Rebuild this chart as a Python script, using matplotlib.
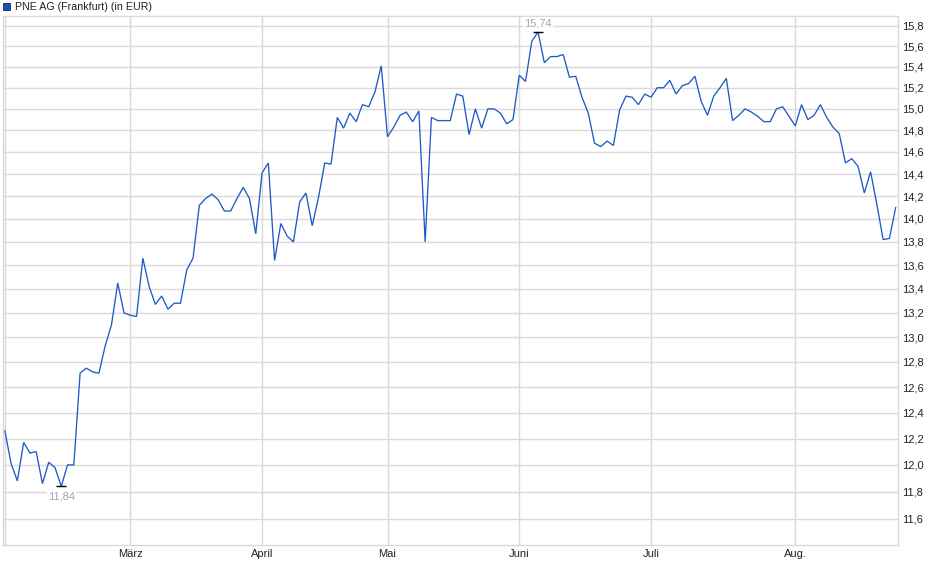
import numpy as np
import pandas as pd
import matplotlib
matplotlib.use("Agg")
import matplotlib.pyplot as plt
from matplotlib.ticker import FixedLocator, FuncFormatter, NullLocator
from matplotlib.patches import Rectangle

plt.rcParams['font.family'] = ['Liberation Sans', 'DejaVu Sans']

# ---- data ----
title = "PNE AG (Frankfurt) (in EUR)"
holidays = ["2025-04-18", "2025-04-21", "2025-05-01"]
start_date = "2025-02-03"
end_date = "2025-08-25"
prices = [
    12.26, 12.01, 11.88, 12.17, 12.09, 12.10, 11.86, 12.02, 11.98, 11.84,
    12.00, 12.00, 12.71, 12.75, 12.72, 12.71, 12.93, 13.10, 13.45, 13.20,
    13.18, 13.17, 13.66, 13.42, 13.27, 13.34, 13.23, 13.28, 13.28, 13.56,
    13.66, 14.12, 14.18, 14.22, 14.17, 14.07, 14.07, 14.18, 14.28, 14.18,
    13.87, 14.41, 14.50, 13.64, 13.96, 13.85, 13.80, 14.15, 14.23, 13.94,
    14.19, 14.50, 14.49, 14.92, 14.82, 14.96, 14.88, 15.04, 15.02, 15.16,
    15.41, 14.74, 14.83, 14.94, 14.97, 14.88, 14.98, 13.80, 14.92, 14.89,
    14.89, 14.89, 15.14, 15.12, 14.76, 15.00, 14.82, 15.00, 15.00, 14.96,
    14.86, 14.90, 15.32, 15.26, 15.65, 15.74, 15.44, 15.50, 15.50, 15.52,
    15.30, 15.31, 15.11, 14.96, 14.68, 14.65, 14.70, 14.66, 14.99, 15.12,
    15.11, 15.04, 15.14, 15.11, 15.20, 15.20, 15.27, 15.14, 15.22, 15.24,
    15.31, 15.07, 14.94, 15.12, 15.20, 15.29, 14.89, 14.94, 15.00, 14.97,
    14.93, 14.88, 14.88, 15.00, 15.02, 14.93, 14.84, 15.04, 14.90, 14.94,
    15.04, 14.92, 14.83, 14.77, 14.50, 14.54, 14.47, 14.23, 14.42, 14.13,
    13.82, 13.83, 14.10,
]
month_labels = {2: "", 3: "März", 4: "April", 5: "Mai", 6: "Juni", 7: "Juli", 8: "Aug."}
y_ticks = [11.6, 11.8, 12.0, 12.2, 12.4, 12.6, 12.8, 13.0, 13.2, 13.4, 13.6,
           13.8, 14.0, 14.2, 14.4, 14.6, 14.8, 15.0, 15.2, 15.4, 15.6, 15.8]

# ---- build ----
dates = pd.bdate_range(start_date, end_date, freq="C", holidays=holidays)
n = min(len(dates), len(prices))
dates = dates[:n]
y = np.array(prices[:n])
x = np.arange(n)

# month tick positions: first trading day in each month
month_pos, month_txt = [], []
prev = None
for i, d in enumerate(dates):
    if d.month != prev:
        month_pos.append(i)
        month_txt.append(month_labels.get(d.month, ""))
        prev = d.month

W, H = 940, 579
fig = plt.figure(figsize=(W / 100, H / 100), dpi=100)
L, R, T, B = 3, 898, 16, 545
ax = fig.add_axes([L / W, 1 - B / H, (R - L) / W, (B - T) / H])

grid_c = "#d9d9d9"
line_c = "#1f5bc6"

ax.set_yscale("log")
ax.set_ylim(11.4125, 15.899)
ax.set_xlim(-0.29, 142.37)

ax.yaxis.set_major_locator(FixedLocator(y_ticks))
ax.yaxis.set_minor_locator(NullLocator())
ax.yaxis.set_major_formatter(FuncFormatter(lambda v, p: f"{v:.1f}".replace(".", ",")))
ax.yaxis.tick_right()
ax.tick_params(axis="y", length=0, pad=3, labelsize=8, labelcolor="#222222")

ax.xaxis.set_major_locator(FixedLocator(month_pos))
ax.xaxis.set_minor_locator(NullLocator())
ax.set_xticklabels(month_txt)
ax.tick_params(axis="x", length=0, pad=3, labelsize=8, labelcolor="#222222")

ax.grid(True, which="major", color=grid_c, linewidth=1.0)
ax.set_axisbelow(True)
for s in ax.spines.values():
    s.set_color(grid_c)
    s.set_linewidth(1.0)

ax.plot(x, y, color=line_c, linewidth=0.95, solid_joinstyle="miter")

# min / max annotations
imin = int(np.argmin(y))
imax = int(np.argmax(y))
for idx, above in ((imin, False), (imax, True)):
    ax.plot([x[idx]], [y[idx]], marker="_", markersize=7, mew=1.0, color="black",
            clip_on=False, zorder=5)
    ax.annotate(f"{y[idx]:.2f}".replace(".", ","), (x[idx], y[idx]),
                xytext=(0, 6.5 if above else -7.5), textcoords="offset points",
                ha="center", va="center", fontsize=8, color="#a0a8b6",
                annotation_clip=False, zorder=6,
                bbox=dict(boxstyle="square,pad=0.1", fc="white", ec="none"))

# title with legend square
fig.patches.append(Rectangle((3.3 / W, 1 - 9.5 / H), 6.7 / W, 6.7 / H,
                             transform=fig.transFigure, facecolor="#1f4fb0",
                             edgecolor="#0f2a66", linewidth=0.6))
fig.text(15 / W, 1 - 6.5 / H, title, fontsize=7.7, color="#222222",
         ha="left", va="center")

fig.savefig("out.png", dpi=100, facecolor="white")
